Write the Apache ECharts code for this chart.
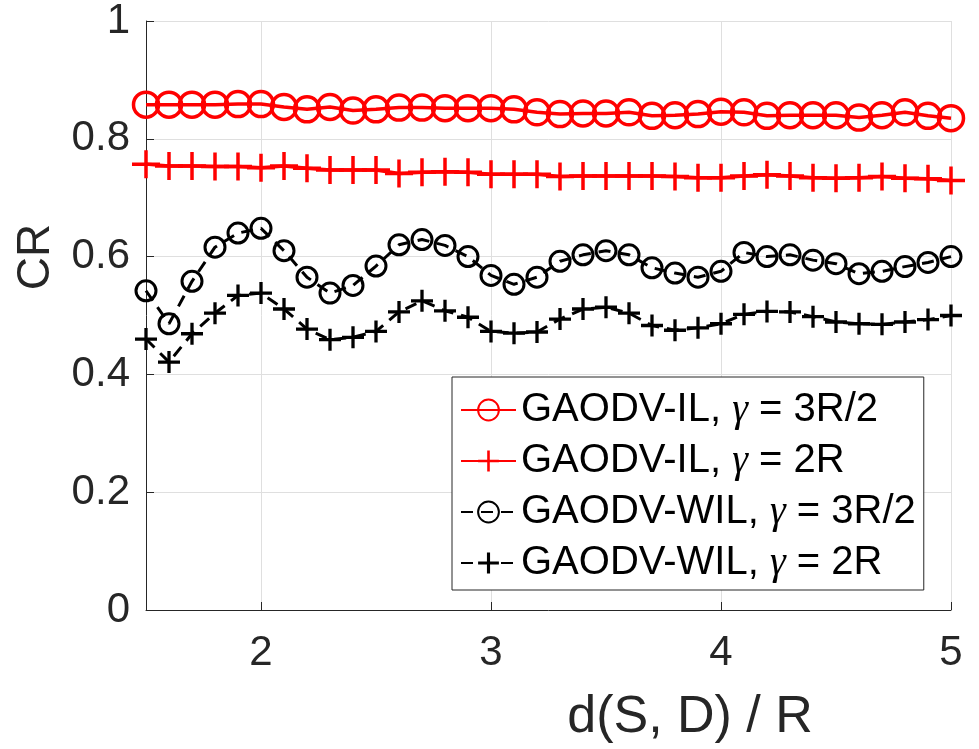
<!DOCTYPE html>
<html>
<head>
<meta charset="utf-8">
<script src="https://cdn.jsdelivr.net/npm/echarts@6/dist/echarts.min.js"></script>
<style>
html,body{margin:0;padding:0;background:#fff;}
#chart{width:979px;height:749px;}
</style>
</head>
<body>
<div id="chart"></div>
<script>
var xValues = [1.5,1.6,1.7,1.8,1.9,2.0,2.1,2.2,2.3,2.4,2.5,2.6,2.7,2.8,2.9,3.0,3.1,3.2,3.3,3.4,3.5,3.6,3.7,3.8,3.9,4.0,4.1,4.2,4.3,4.4,4.5,4.6,4.7,4.8,4.9,5.0];
var il3R2 = [0.858,0.858,0.858,0.858,0.859,0.859,0.854,0.850,0.854,0.848,0.850,0.853,0.853,0.852,0.852,0.852,0.850,0.845,0.842,0.843,0.843,0.845,0.839,0.840,0.842,0.846,0.845,0.839,0.840,0.840,0.840,0.836,0.840,0.845,0.839,0.835];
var il2R = [0.757,0.754,0.754,0.753,0.753,0.751,0.754,0.750,0.747,0.747,0.747,0.741,0.743,0.744,0.743,0.740,0.740,0.740,0.736,0.737,0.737,0.737,0.737,0.736,0.734,0.734,0.737,0.739,0.737,0.734,0.733,0.734,0.736,0.733,0.732,0.729];
var wil3R2 = [0.542,0.486,0.558,0.616,0.640,0.648,0.610,0.565,0.538,0.551,0.584,0.620,0.629,0.619,0.600,0.568,0.553,0.565,0.592,0.603,0.610,0.603,0.581,0.572,0.565,0.575,0.607,0.600,0.603,0.594,0.588,0.571,0.575,0.583,0.590,0.600];
var wil2R = [0.460,0.421,0.469,0.504,0.534,0.538,0.511,0.477,0.459,0.463,0.473,0.506,0.525,0.508,0.497,0.473,0.470,0.472,0.494,0.511,0.514,0.504,0.483,0.475,0.479,0.486,0.502,0.507,0.506,0.498,0.489,0.486,0.485,0.489,0.493,0.500];
var xTicks = [2,3,4,5];
var seriesNames = ['GAODV-IL, γ = 3R/2','GAODV-IL, γ = 2R','GAODV-WIL, γ = 3R/2','GAODV-WIL, γ = 2R'];
var xLabel = 'd(S, D) / R';
var yLabel = 'CR';

function pairs(ys){ return xValues.map(function(x,i){ return [x, ys[i]]; }); }
var plusPath = 'path://M3.5,0 L4.5,0 L4.5,3.5 L8,3.5 L8,4.5 L4.5,4.5 L4.5,8 L3.5,8 L3.5,4.5 L0,4.5 L0,3.5 L3.5,3.5 Z';
var plusPathThick = 'path://M3.4,0 L4.6,0 L4.6,3.4 L8,3.4 L8,4.6 L4.6,4.6 L4.6,8 L3.4,8 L3.4,4.6 L0,4.6 L0,3.4 L3.4,3.4 Z';

var chart = echarts.init(document.getElementById('chart'), null, {renderer:'canvas'});
var font = 'Liberation Sans, Arial, Helvetica, sans-serif';
chart.setOption({
  animation:false,
  backgroundColor:'#ffffff',
  grid:{left:146, right:28, top:20, bottom:139, containLabel:false},
  xAxis:{
    type:'value', min:1.5, max:5,
    axisLine:{show:true, lineStyle:{color:'#262626', width:1}},
    axisTick:{show:true, inside:true, length:8, customValues:xTicks, lineStyle:{color:'#262626'}},
    axisLabel:{customValues:xTicks, fontSize:42, color:'#262626', fontFamily:font, margin:22},
    splitLine:{show:true, lineStyle:{color:'#dfdfdf', width:1}}
  },
  yAxis:{
    type:'value', min:0, max:1, interval:0.2,
    axisLine:{show:true, lineStyle:{color:'#262626', width:1}},
    axisTick:{show:true, inside:true, length:8, lineStyle:{color:'#262626'}},
    axisLabel:{fontSize:42, color:'#262626', fontFamily:font, margin:16},
    splitLine:{show:true, lineStyle:{color:'#dfdfdf', width:1}}
  },
  legend:{
    orient:'vertical', left:452, top:377,
    backgroundColor:'#ffffff', borderColor:'#262626', borderWidth:1,
    padding:[12,8,6,8],
    itemWidth:55, itemHeight:26, itemGap:9,
    textStyle:{fontSize:40, color:'#000000', fontFamily:font, lineHeight:42,
      rich:{g:{fontFamily:'Liberation Serif, Times New Roman, serif', fontStyle:'italic', fontSize:40, color:'#000'}}},
    formatter:function(name){ return name.replace('γ','{g|γ}'); },
    data:seriesNames
  },
  graphic:[
    {type:'text', style:{text:xLabel, font:'52px '+font, fill:'#262626', textAlign:'center', textVerticalAlign:'middle'}, x:690, y:718},
    {type:'text', style:{text:yLabel, font:'46px '+font, fill:'#262626', textAlign:'center', textVerticalAlign:'middle'}, x:36, y:257, rotation:Math.PI/2}
  ],
  series:[
    {name:seriesNames[0], type:'line', data:pairs(il3R2), symbol:'circle', symbolSize:25,
     lineStyle:{color:'#ff0000', width:3.5}, itemStyle:{color:'rgba(0,0,0,0)', borderColor:'#ff0000', borderWidth:3.5}, z:4},
    {name:seriesNames[1], type:'line', data:pairs(il2R), symbol:plusPath, symbolSize:28,
     lineStyle:{color:'#ff0000', width:3.5}, itemStyle:{color:'#ff0000'}, z:3},
    {name:seriesNames[2], type:'line', data:pairs(wil3R2), symbol:'circle', symbolSize:20,
     lineStyle:{color:'#000000', width:3, type:[12,8]}, itemStyle:{color:'rgba(0,0,0,0)', borderColor:'#000000', borderWidth:3}, z:2},
    {name:seriesNames[3], type:'line', data:pairs(wil2R), symbol:plusPathThick, symbolSize:22,
     lineStyle:{color:'#000000', width:3, type:[12,8]}, itemStyle:{color:'#000000'}, z:1}
  ]
});
</script>
</body>
</html>
